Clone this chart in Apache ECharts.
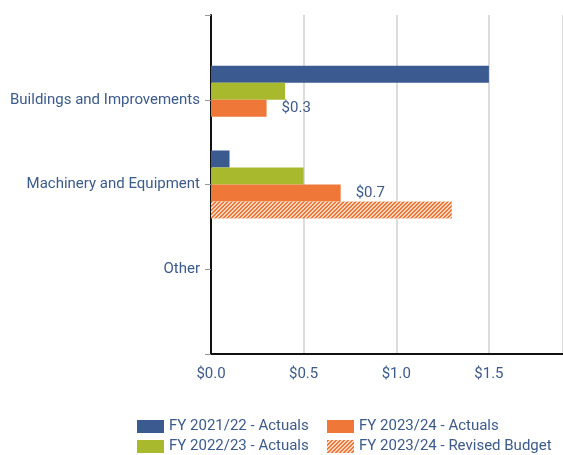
<!DOCTYPE html>
<html>
<head>
<meta charset="utf-8">
<script src="https://cdn.jsdelivr.net/npm/echarts@6/dist/echarts.min.js"></script>
<style>
  html, body { margin: 0; padding: 0; background: #fff; }
  #chart { width: 563px; height: 455px; }
</style>
</head>
<body>
<div id="chart"></div>
<script>
// categories, top to bottom
var categories = ['Buildings and Improvements', 'Machinery and Equipment', 'Other']
var seriesNames = ['FY 2021/22 - Actuals', 'FY 2022/23 - Actuals', 'FY 2023/24 - Actuals', 'FY 2023/24 - Revised Budget']
var fy2122 = [1.5, 0.1, null]
var fy2223 = [0.4, 0.5, null]
var fy2324 = [0.3, 0.7, null]
var budget2324 = [null, 1.3, null]
var xTicks = [0, 0.5, 1.0, 1.5]

var textColor = '#3c5a8a'
var colors = ['#3b5a8f', '#a9b92e', '#ef7838']

// hatched pattern for the revised budget
function hatch () {
  var c = document.createElement('canvas')
  c.width = 4
  c.height = 4
  var ctx = c.getContext('2d')
  ctx.fillStyle = '#fbd7c2'
  ctx.fillRect(0, 0, 4, 4)
  ctx.fillStyle = '#ef7838'
  for (var x = 0; x < 4; x++) {
    for (var y = 0; y < 4; y++) {
      if ((x + y) % 4 < 2) ctx.fillRect(x, y, 1, 1)
    }
  }
  return c
}

// pad with empty slots so ticks fall at band edges like the original
function pad (arr) {
  return [null].concat(arr, [null])
}

var allData = [fy2122, fy2223, fy2324, budget2324]
var series = seriesNames.map(function (name, i) {
  var s = {
    name: name,
    type: 'bar',
    barWidth: 17,
    barGap: '0%',
    data: pad(allData[i]),
    itemStyle: { color: i < 3 ? colors[i] : { image: hatch(), repeat: 'repeat' } }
  }
  if (i === 2) {
    s.label = {
      show: true,
      position: 'right',
      distance: 15,
      color: textColor,
      fontSize: 15,
      fontFamily: 'Roboto',
      formatter: function (p) { return '$' + p.value.toFixed(1) }
    }
  }
  return s
})

var legendText = { color: textColor, fontSize: 15, fontFamily: 'Roboto' }

var option = {
  animation: false,
  grid: { left: 211, right: 0, top: 15, bottom: 101, containLabel: false },
  legend: [
    {
      data: [seriesNames[0], seriesNames[1]],
      orient: 'vertical', left: 132, top: 414, height: 80,
      icon: 'rect', itemWidth: 27, itemHeight: 13, itemGap: 5,
      textStyle: legendText
    },
    {
      data: [seriesNames[2], seriesNames[3]],
      orient: 'vertical', left: 322, top: 414, height: 80,
      icon: 'rect', itemWidth: 27, itemHeight: 13, itemGap: 5,
      textStyle: legendText
    }
  ],
  xAxis: {
    type: 'value',
    min: 0,
    max: 1.9,
    interval: 0.5,
    axisLine: { show: true, lineStyle: { color: '#111', width: 2 } },
    axisTick: { show: false },
    splitLine: { show: true, lineStyle: { color: '#dcdcdc', width: 2 } },
    axisLabel: {
      color: textColor, fontSize: 15, fontFamily: 'Roboto', margin: 13,
      showMaxLabel: false,
      formatter: function (v) {
        return xTicks.indexOf(v) >= 0 ? '$' + v.toFixed(1) : ''
      }
    }
  },
  yAxis: {
    type: 'category',
    inverse: true,
    boundaryGap: false,
    data: pad(categories).map(function (c) { return c || '' }),
    axisLine: { show: true, lineStyle: { color: '#111', width: 2 } },
    axisTick: { show: true, length: 6, interval: 0, lineStyle: { color: '#999' } },
    axisLabel: { color: textColor, fontSize: 15, fontFamily: 'Roboto', margin: 11, interval: 0 },
    splitLine: { show: false }
  },
  series: series
}

var myChart = echarts.init(document.getElementById('chart'))
myChart.setOption(option)
</script>
</body>
</html>
